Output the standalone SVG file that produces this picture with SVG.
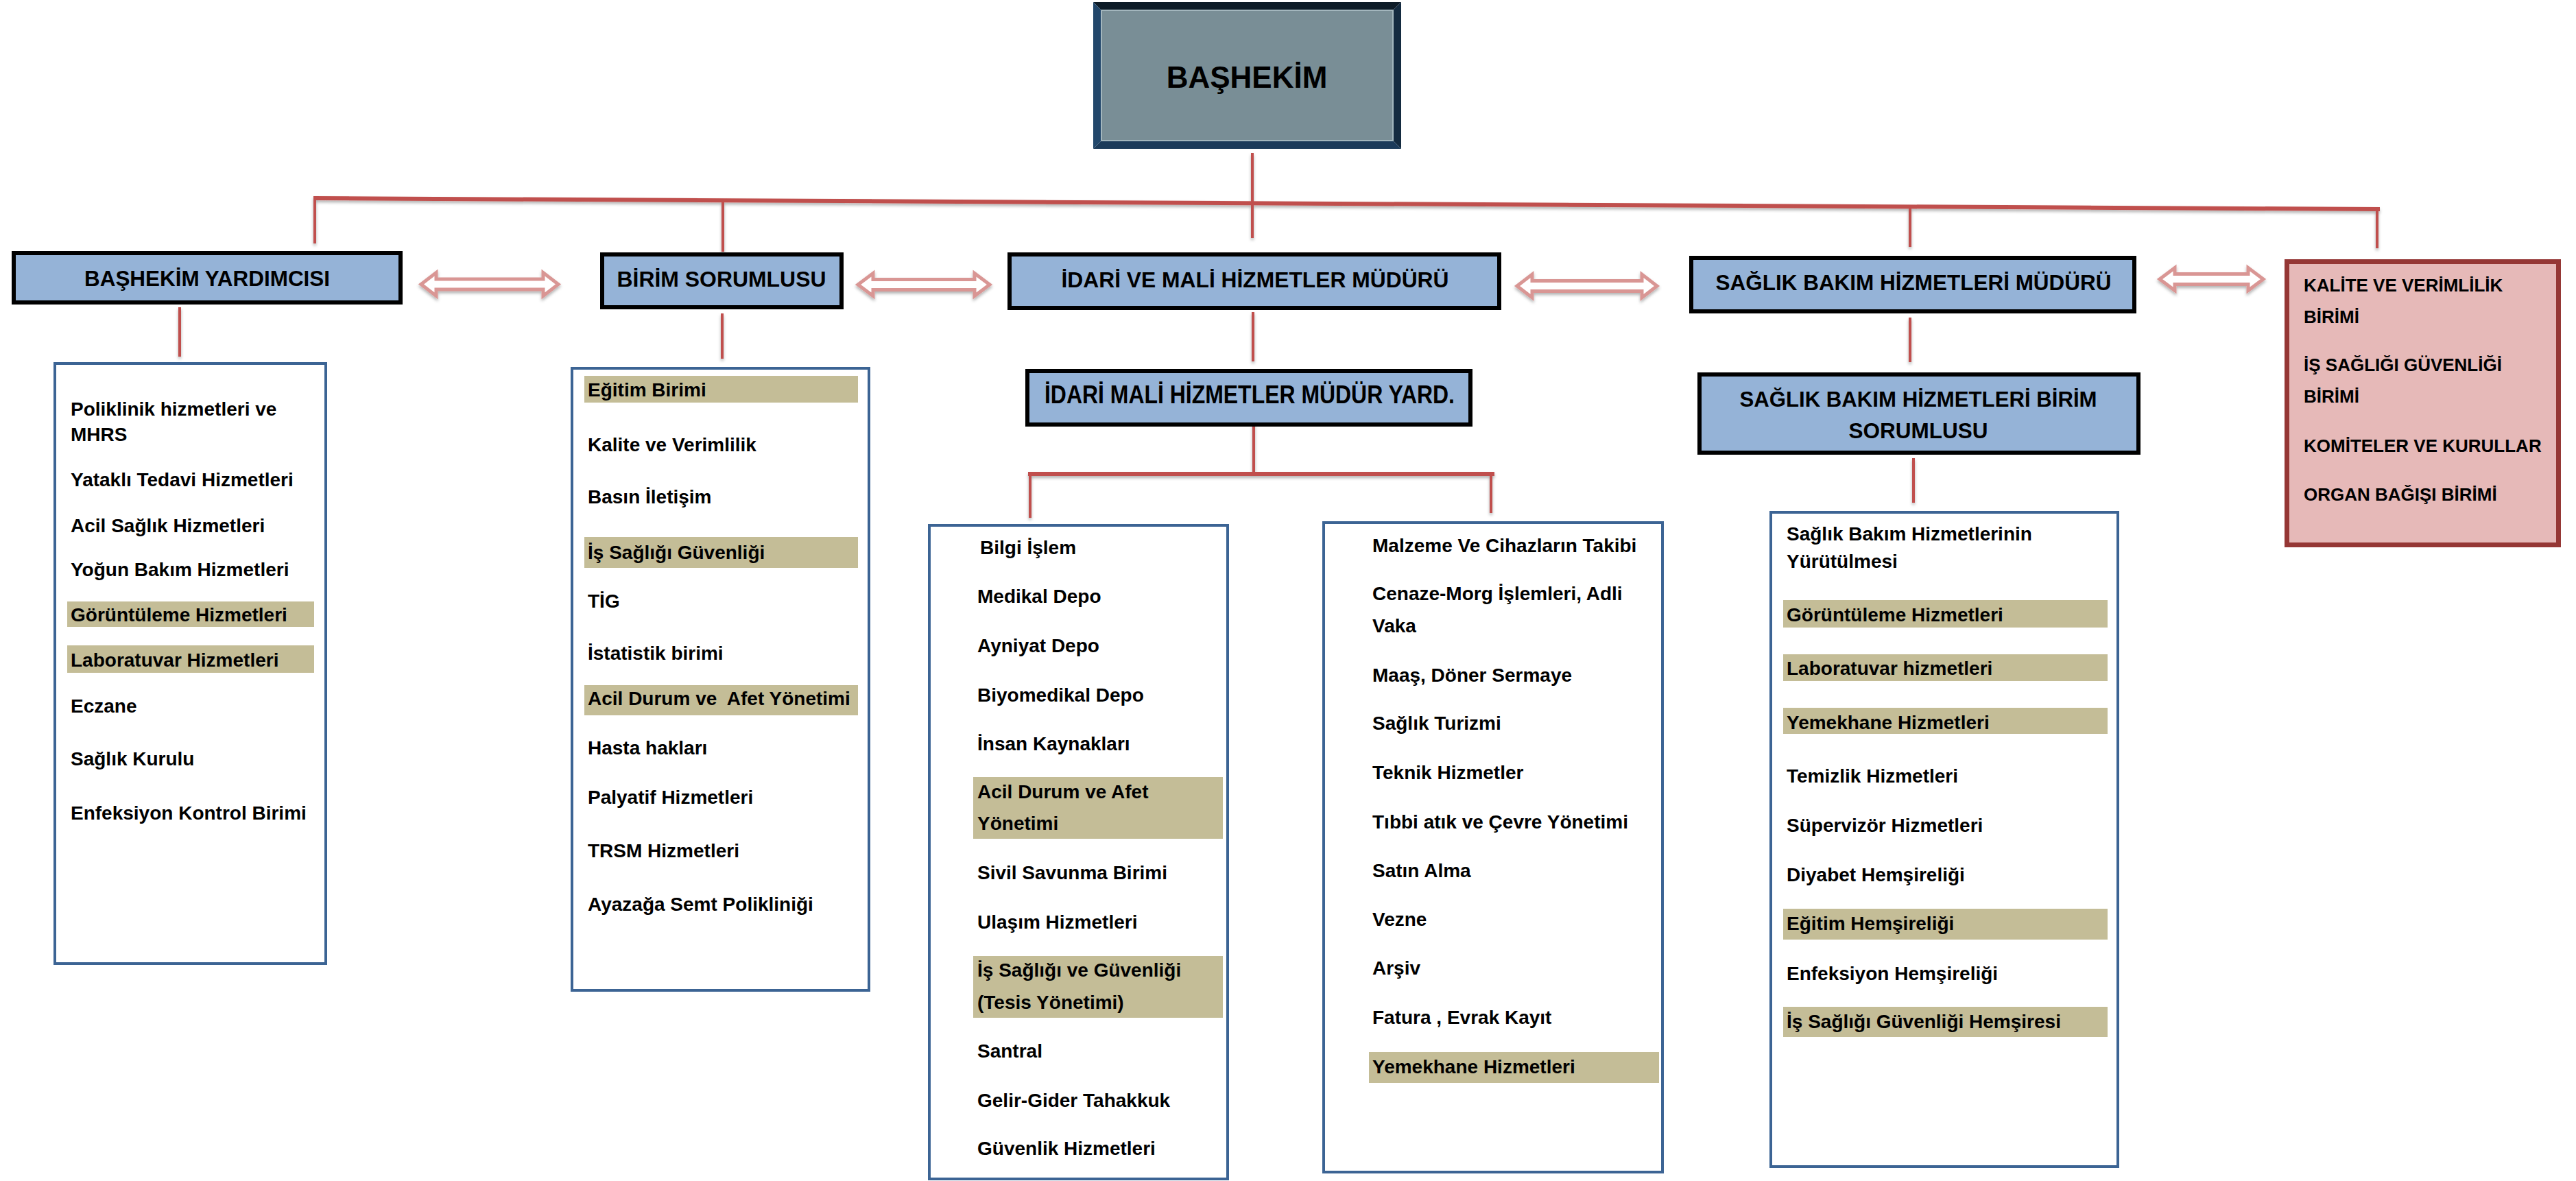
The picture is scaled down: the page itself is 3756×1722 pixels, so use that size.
<svg xmlns="http://www.w3.org/2000/svg" width="3756" height="1722" viewBox="0 0 3756 1722">
<style>
.hdr{fill:#95b3d7;stroke:#000;stroke-width:6}
.lst{fill:#fff;stroke:#3c6494;stroke-width:4}
.hl{fill:#c4bd97}
.t{font-family:"Liberation Sans",Arial,sans-serif;font-weight:bold;fill:#000}
.it{font-size:28px}
.h{font-size:32px;text-anchor:middle}
.k{font-size:26px}
.conn{stroke:#c0504d;stroke-width:4;fill:none}
.bar{stroke-width:6}
.arr{fill:#fff;stroke:#d99694;stroke-width:5;stroke-linejoin:miter}
</style>
<defs>
<filter id="sh" x="-5%" y="-50%" width="110%" height="200%">
<feDropShadow dx="0" dy="3" stdDeviation="2" flood-color="#000" flood-opacity="0.3"/>
</filter>
</defs>
<rect width="3756" height="1722" fill="#fff"/>

<g id="connectors" filter="url(#sh)">
<line class="conn bar" x1="457" y1="289" x2="3470" y2="305"/>
<line class="conn" x1="1826" y1="223" x2="1826" y2="347"/>
<line class="conn" x1="459" y1="290" x2="459" y2="355"/>
<line class="conn" x1="1054" y1="293" x2="1054" y2="367"/>
<line class="conn" x1="2785" y1="302" x2="2785" y2="360"/>
<line class="conn" x1="3466" y1="305" x2="3466" y2="362"/>
<line class="conn" x1="262" y1="448" x2="262" y2="520"/>
<line class="conn" x1="1053" y1="457" x2="1053" y2="523"/>
<line class="conn" x1="1827" y1="455" x2="1827" y2="527"/>
<line class="conn" x1="1828" y1="617" x2="1828" y2="694"/>
<line class="conn bar" x1="1499" y1="691" x2="2179" y2="691"/>
<line class="conn" x1="1502" y1="691" x2="1502" y2="755"/>
<line class="conn" x1="2174" y1="691" x2="2174" y2="748"/>
<line class="conn" x1="2785" y1="463" x2="2785" y2="528"/>
<line class="conn" x1="2790" y1="668" x2="2790" y2="733"/>
<path class="arr" d="M614,414.5 L636,397.5 L636,407 L792,407 L792,397.5 L814,414.5 L792,431.5 L792,422 L636,422 L636,431.5 Z"/>
<path class="arr" d="M1251,415 L1273,398.5 L1273,407.5 L1421,407.5 L1421,398.5 L1443,415 L1421,431.5 L1421,422.5 L1273,422.5 L1273,431.5 Z"/>
<path class="arr" d="M2212,417 L2234,400 L2234,409.5 L2394,409.5 L2394,400 L2416,417 L2394,434 L2394,424.5 L2234,424.5 L2234,434 Z"/>
<path class="arr" d="M3149,407 L3171,390.5 L3171,399.5 L3278,399.5 L3278,390.5 L3300,407 L3278,423.5 L3278,414.5 L3171,414.5 L3171,423.5 Z"/>
</g>

<g id="bashekim">
<polygon points="1594,3 2043,3 2031,15 1606,15" fill="#0e1c28"/>
<polygon points="1594,3 1606,15 1606,205 1594,217" fill="#22476b"/>
<polygon points="2043,3 2043,217 2031,205 2031,15" fill="#142b40"/>
<polygon points="1594,217 2043,217 2031,205 1606,205" fill="#1c3b5a"/>
<rect x="1606" y="15" width="425" height="190" fill="#798e96" stroke="#a3b6bd" stroke-width="2"/>
<text class="t" x="1818" y="128" font-size="44" text-anchor="middle">BAŞHEKİM</text>
</g>

<g id="bashekim-yardimcisi">
<rect class="hdr" x="20" y="369" width="564" height="72"/>
<text class="t h" x="302" y="417" textLength="358" lengthAdjust="spacingAndGlyphs">BAŞHEKİM YARDIMCISI</text>
</g>

<g id="birim-sorumlusu">
<rect class="hdr" x="878" y="371" width="349" height="77"/>
<text class="t h" x="1052" y="418" textLength="305" lengthAdjust="spacingAndGlyphs">BİRİM SORUMLUSU</text>
</g>

<g id="idari-mali-mudur">
<rect class="hdr" x="1472" y="371" width="714" height="78"/>
<text class="t h" x="1830" y="419" textLength="565" lengthAdjust="spacingAndGlyphs">İDARİ VE MALİ HİZMETLER MÜDÜRÜ</text>
</g>

<g id="saglik-bakim-mudur">
<rect class="hdr" x="2466" y="376" width="646" height="78"/>
<text class="t h" x="2790" y="423" textLength="577" lengthAdjust="spacingAndGlyphs">SAĞLIK BAKIM HİZMETLERİ MÜDÜRÜ</text>
</g>

<g id="kalite">
<rect x="3334.5" y="381.5" width="396" height="413" fill="#e6b9b8" stroke="#953735" stroke-width="7"/>
<text class="t k" x="3359" y="425">KALİTE VE VERİMLİLİK</text>
<text class="t k" x="3359" y="471">BİRİMİ</text>
<text class="t k" x="3359" y="541">İŞ SAĞLIĞI GÜVENLİĞİ</text>
<text class="t k" x="3359" y="587">BİRİMİ</text>
<text class="t k" x="3359" y="659">KOMİTELER VE KURULLAR</text>
<text class="t k" x="3359" y="730">ORGAN BAĞIŞI BİRİMİ</text>
</g>

<g id="idari-mali-mudur-yard">
<rect class="hdr" x="1498" y="541" width="646" height="78"/>
<text class="t h" x="1822" y="588" textLength="598" lengthAdjust="spacingAndGlyphs" style="font-size:36px">İDARİ MALİ HİZMETLER MÜDÜR YARD.</text>
</g>

<g id="saglik-bakim-birim-sorumlusu">
<rect class="hdr" x="2478" y="546" width="640" height="114"/>
<text class="t h" x="2797" y="593" textLength="521" lengthAdjust="spacingAndGlyphs">SAĞLIK BAKIM HİZMETLERİ BİRİM</text>
<text class="t h" x="2797" y="639" textLength="203" lengthAdjust="spacingAndGlyphs">SORUMLUSU</text>
</g>

<g id="list-bashekim-yardimcisi">
<rect class="lst" x="80" y="530" width="395" height="875"/>
<rect class="hl" x="98" y="877" width="360" height="37"/>
<rect class="hl" x="98" y="941" width="360" height="40"/>
<text class="t it" x="103" y="606">Poliklinik hizmetleri ve</text>
<text class="t it" x="103" y="643">MHRS</text>
<text class="t it" x="103" y="709">Yataklı Tedavi Hizmetleri</text>
<text class="t it" x="103" y="776">Acil Sağlık Hizmetleri</text>
<text class="t it" x="103" y="840">Yoğun Bakım Hizmetleri</text>
<text class="t it" x="103" y="906">Görüntüleme Hizmetleri</text>
<text class="t it" x="103" y="972">Laboratuvar Hizmetleri</text>
<text class="t it" x="103" y="1039">Eczane</text>
<text class="t it" x="103" y="1116">Sağlık Kurulu</text>
<text class="t it" x="103" y="1195">Enfeksiyon Kontrol Birimi</text>
</g>

<g id="list-birim-sorumlusu">
<rect class="lst" x="834" y="537" width="433" height="907"/>
<rect class="hl" x="852" y="548" width="399" height="39"/>
<rect class="hl" x="852" y="783" width="399" height="45"/>
<rect class="hl" x="852" y="999" width="399" height="44"/>
<text class="t it" x="857" y="578">Eğitim Birimi</text>
<text class="t it" x="857" y="658">Kalite ve Verimlilik</text>
<text class="t it" x="857" y="734">Basın İletişim</text>
<text class="t it" x="857" y="815">İş Sağlığı Güvenliği</text>
<text class="t it" x="857" y="886">TİG</text>
<text class="t it" x="857" y="962">İstatistik birimi</text>
<text class="t it" x="857" y="1028" xml:space="preserve">Acil Durum ve  Afet Yönetimi</text>
<text class="t it" x="857" y="1100">Hasta hakları</text>
<text class="t it" x="857" y="1172">Palyatif Hizmetleri</text>
<text class="t it" x="857" y="1250">TRSM Hizmetleri</text>
<text class="t it" x="857" y="1328">Ayazağa Semt Polikliniği</text>
</g>

<g id="list-idari-1">
<rect class="lst" x="1355" y="766" width="435" height="953"/>
<rect class="hl" x="1419" y="1133" width="364" height="90"/>
<rect class="hl" x="1419" y="1394" width="364" height="90"/>
<text class="t it" x="1429" y="808">Bilgi İşlem</text>
<text class="t it" x="1425" y="879">Medikal Depo</text>
<text class="t it" x="1425" y="951">Ayniyat Depo</text>
<text class="t it" x="1425" y="1023">Biyomedikal Depo</text>
<text class="t it" x="1425" y="1094">İnsan Kaynakları</text>
<text class="t it" x="1425" y="1164">Acil Durum ve Afet</text>
<text class="t it" x="1425" y="1210">Yönetimi</text>
<text class="t it" x="1425" y="1282">Sivil Savunma Birimi</text>
<text class="t it" x="1425" y="1354">Ulaşım Hizmetleri</text>
<text class="t it" x="1425" y="1424">İş Sağlığı ve Güvenliği</text>
<text class="t it" x="1425" y="1471">(Tesis Yönetimi)</text>
<text class="t it" x="1425" y="1542">Santral</text>
<text class="t it" x="1425" y="1614">Gelir-Gider Tahakkuk</text>
<text class="t it" x="1425" y="1684">Güvenlik Hizmetleri</text>
</g>

<g id="list-idari-2">
<rect class="lst" x="1930" y="762" width="494" height="947"/>
<rect class="hl" x="1996" y="1534" width="423" height="45"/>
<text class="t it" x="2001" y="805">Malzeme Ve Cihazların Takibi</text>
<text class="t it" x="2001" y="875">Cenaze-Morg İşlemleri, Adli</text>
<text class="t it" x="2001" y="922">Vaka</text>
<text class="t it" x="2001" y="994">Maaş, Döner Sermaye</text>
<text class="t it" x="2001" y="1064">Sağlık Turizmi</text>
<text class="t it" x="2001" y="1136">Teknik Hizmetler</text>
<text class="t it" x="2001" y="1208">Tıbbi atık ve Çevre Yönetimi</text>
<text class="t it" x="2001" y="1279">Satın Alma</text>
<text class="t it" x="2001" y="1350">Vezne</text>
<text class="t it" x="2001" y="1421">Arşiv</text>
<text class="t it" x="2001" y="1493">Fatura , Evrak Kayıt</text>
<text class="t it" x="2001" y="1565">Yemekhane Hizmetleri</text>
</g>

<g id="list-saglik-bakim">
<rect class="lst" x="2582" y="747" width="506" height="954"/>
<rect class="hl" x="2600" y="875" width="473" height="40"/>
<rect class="hl" x="2600" y="954" width="473" height="39"/>
<rect class="hl" x="2600" y="1032" width="473" height="38"/>
<rect class="hl" x="2600" y="1325" width="473" height="45"/>
<rect class="hl" x="2600" y="1468" width="473" height="44"/>
<text class="t it" x="2605" y="788">Sağlık Bakım Hizmetlerinin</text>
<text class="t it" x="2605" y="828">Yürütülmesi</text>
<text class="t it" x="2605" y="906">Görüntüleme Hizmetleri</text>
<text class="t it" x="2605" y="984">Laboratuvar hizmetleri</text>
<text class="t it" x="2605" y="1063">Yemekhane Hizmetleri</text>
<text class="t it" x="2605" y="1141">Temizlik Hizmetleri</text>
<text class="t it" x="2605" y="1213">Süpervizör Hizmetleri</text>
<text class="t it" x="2605" y="1285">Diyabet Hemşireliği</text>
<text class="t it" x="2605" y="1356">Eğitim Hemşireliği</text>
<text class="t it" x="2605" y="1429">Enfeksiyon Hemşireliği</text>
<text class="t it" x="2605" y="1499">İş Sağlığı Güvenliği Hemşiresi</text>
</g>
</svg>
